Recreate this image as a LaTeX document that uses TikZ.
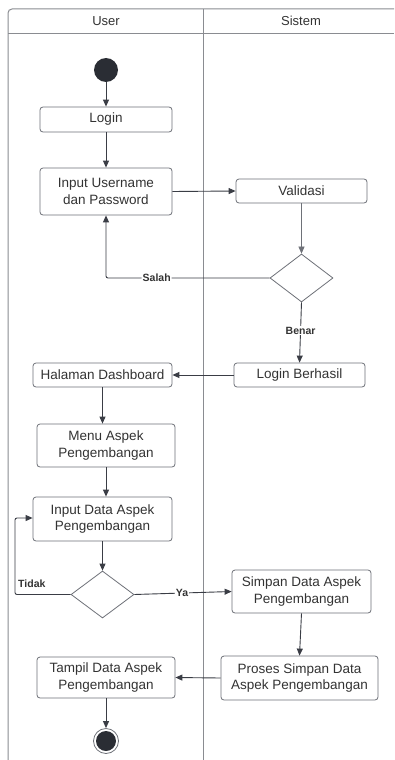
\documentclass[tikz,border=0pt]{standalone}
\usepackage{fontspec}
\setmainfont{Liberation Sans}
\usetikzlibrary{arrows.meta,shapes.geometric}
\definecolor{ink}{HTML}{3A3D45}
\definecolor{edge}{HTML}{6E7178}
\definecolor{lane}{HTML}{8A8C91}
\definecolor{txt}{HTML}{333333}
\definecolor{dot}{HTML}{2A2D34}

\begin{document}
\begin{tikzpicture}[x=1pt,y=-1pt,
  act/.style={draw=edge, line width=0.8pt, rounded corners=3pt, fill=white,
    align=center, text=txt, inner sep=0pt,
    font=\fontsize{13.5}{16.5}\selectfont},
  choice/.style={draw=edge, line width=0.8pt, diamond, fill=white, inner sep=0pt,
    minimum width=63pt, minimum height=48pt},
  flow/.style={draw=ink, line width=0.9pt, -{Triangle[length=7pt,width=6pt]}},
  lbl/.style={font=\fontsize{10.5}{12}\selectfont\bfseries, text=txt,
    fill=white, inner sep=1pt},
  head/.style={font=\fontsize{13}{15}\selectfont, text=txt}]

\useasboundingbox (0,0) rectangle (394,760);
\fill[white] (0,0) rectangle (394,760);

% swimlanes
\draw[lane, line width=1pt, rounded corners=4pt] (394,9) -- (8,9) -- (8,760);
\draw[lane, line width=1pt] (8,34) -- (394,34);
\draw[lane, line width=1pt] (203,9) -- (203,760);
\node[head] (hUser) at (106,21) {User};
\node[head] (hSys) at (301,21) {Sistem};

% activity nodes
\node[circle, fill=dot, minimum size=24pt, inner sep=0pt] (start) at (106,70) {};
\node[act, minimum width=132pt, minimum height=25pt] (login) at (106,119.5) {Login};
\node[act, minimum width=132pt, minimum height=47pt] (user) at (106,191.5) {Input Username\\dan Password};
\node[act, minimum width=131pt, minimum height=24pt] (valid) at (301.5,191) {Validasi};
\node[choice] (d1) at (301.5,278) {};
\node[act, minimum width=131pt, minimum height=24pt] (ok) at (299.5,375) {Login Berhasil};
\node[act, minimum width=139pt, minimum height=24pt] (dash) at (102.5,375) {Halaman Dashboard};
\node[act, minimum width=138pt, minimum height=43pt] (menu) at (106,445.5) {Menu Aspek\\Pengembangan};
\node[act, minimum width=139pt, minimum height=44pt] (inp) at (102.5,519) {Input Data Aspek\\Pengembangan};
\node[choice, minimum height=47pt] (d2) at (102.5,594.5) {};
\node[act, minimum width=139pt, minimum height=43pt] (save) at (301.5,591.5) {Simpan Data Aspek\\Pengembangan};
\node[act, minimum width=157pt, minimum height=44pt] (proc) at (299.5,678) {Proses Simpan Data\\Aspek Pengembangan};
\node[act, minimum width=138pt, minimum height=41pt] (show) at (106,677.5) {Tampil Data Aspek\\Pengembangan};
\node[circle, draw=edge, line width=0.8pt, fill=white, minimum size=25pt, inner sep=0pt] (end) at (106,741) {};
\fill[dot] (end.center) circle (10pt);

\coordinate (loopB) at (15,594.5);
\coordinate (loopT) at (15,518);

% connectors
\draw[flow] (start) -- (login);
\draw[flow] (login) -- (user);
\draw[flow] (user.east) -- (valid.west);
\draw[flow, draw=edge, line width=0.6pt] (valid) -- (d1);
\draw[flow, rounded corners=2pt] (d1.west) -| node[lbl, pos=0.345] {Salah} (user.south);
\draw[flow] (d1.south) -- node[lbl, pos=0.47] {Benar} (ok.north);
\draw[flow] (ok.west) -- (dash.east);
\draw[flow] (dash.south) -- (dash.south |- menu.north);
\draw[flow] (menu.south) -- (menu.south |- inp.north);
\draw[flow] (inp.south) -- (d2.north);
\draw[flow, rounded corners=2pt] (d2.west) -- (loopB) -- (loopT) -- (loopT -| inp.west);
\node[lbl, fill=none, anchor=south west] (tidak) at (17,589) {Tidak};
\draw[flow] (d2.east) -- node[lbl, pos=0.49] {Ya} (save.west);
\draw[flow] (save.south) -- (proc.north);
\draw[flow] (proc.west) -- (show.east);
\draw[flow] (show.south) -- (end.north);

\end{tikzpicture}
\end{document}
